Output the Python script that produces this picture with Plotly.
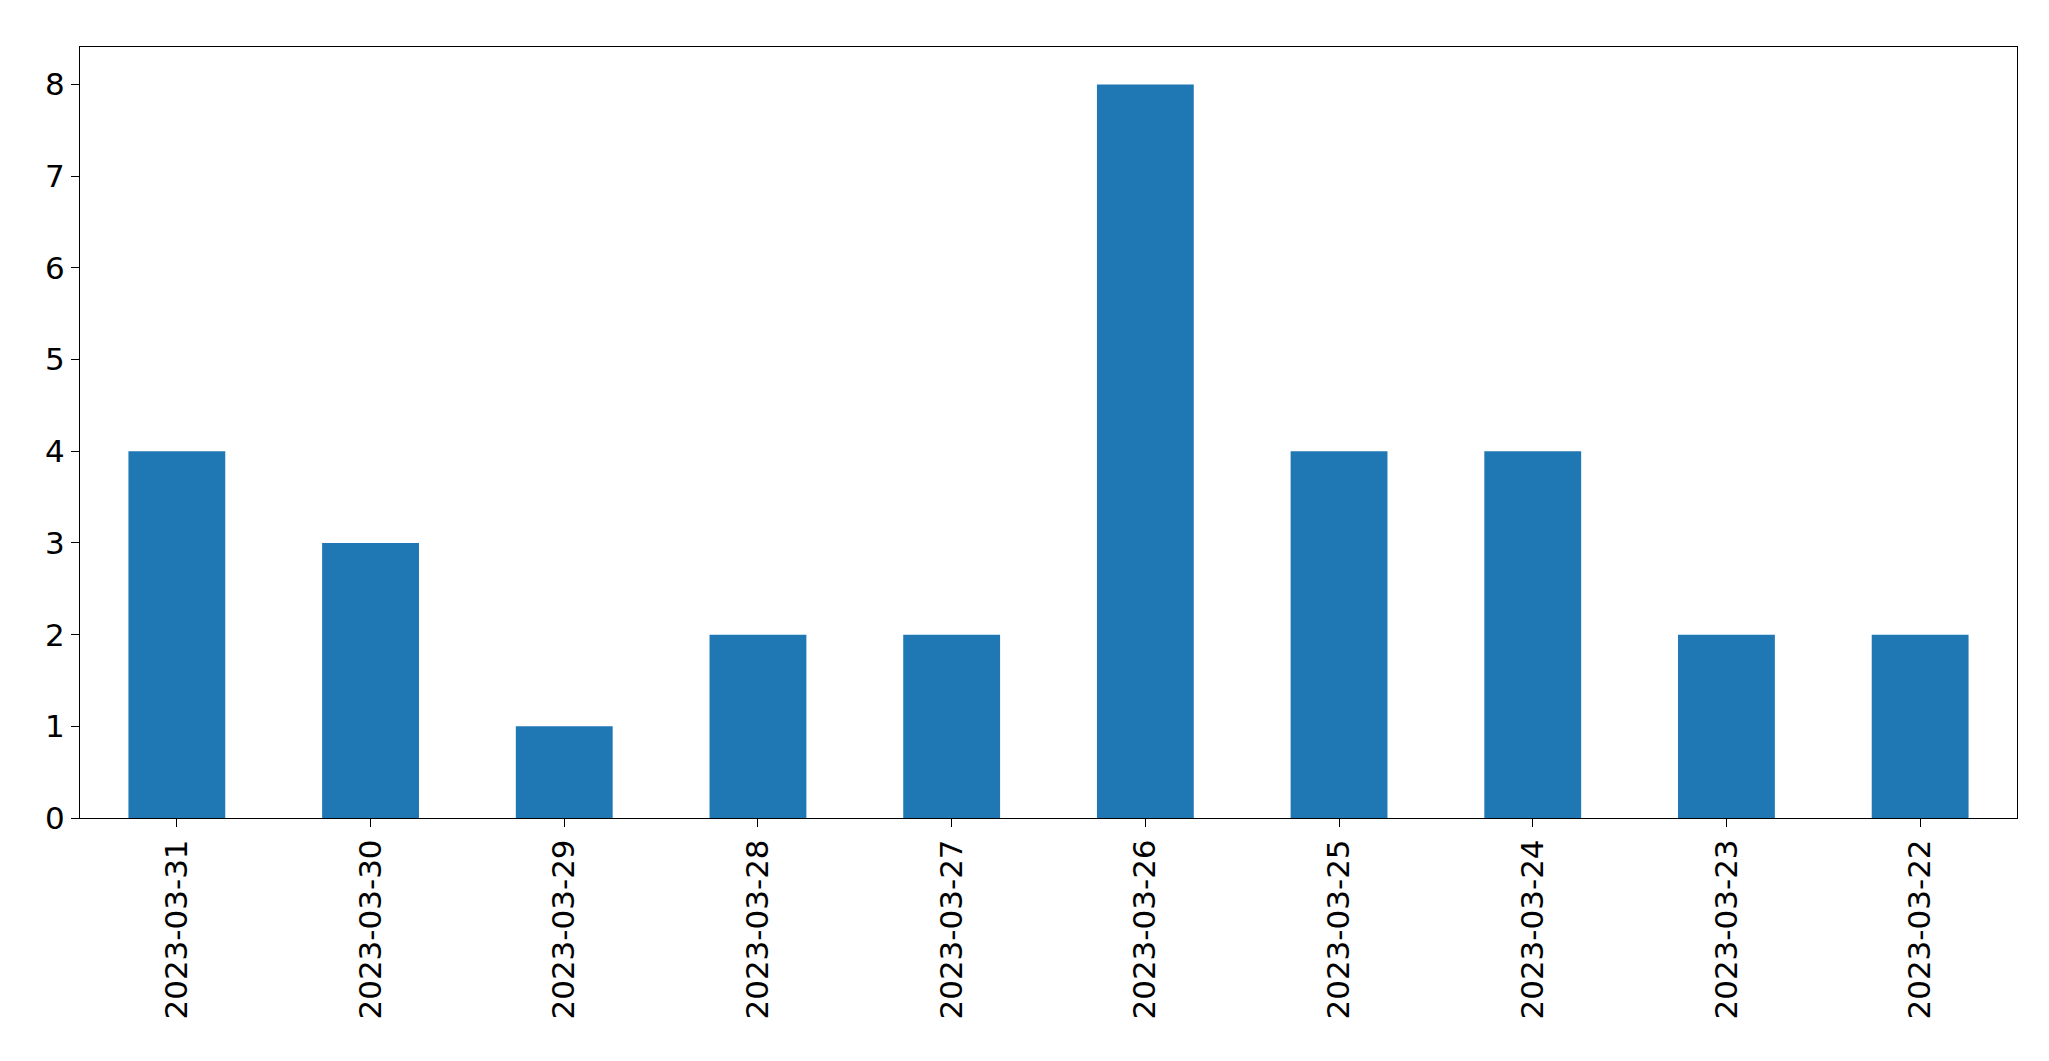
import plotly.graph_objects as go

dates = ['2023-03-31', '2023-03-30', '2023-03-29', '2023-03-28', '2023-03-27',
         '2023-03-26', '2023-03-25', '2023-03-24', '2023-03-23', '2023-03-22']
counts = [4, 3, 1, 2, 2, 8, 4, 4, 2, 2]

fig = go.Figure(go.Bar(x=dates, y=counts, width=0.5, marker=dict(color='#1f77b4', line=dict(width=0))))

fig.update_layout(
    width=2049, height=1061,
    plot_bgcolor='white', paper_bgcolor='white',
    font=dict(family='DejaVu Sans', size=31, color='black'),
    margin=dict(l=72, r=40, t=39, b=251),
    showlegend=False,
)
fig.update_xaxes(type='category', range=[-0.5, 9.5], tickangle=-90,
                 showline=True, linecolor='black', linewidth=1, mirror=True,
                 ticks='outside', ticklen=8, tickcolor='black', showgrid=False)
fig.update_yaxes(range=[0, 8.41], dtick=1, showline=True, linecolor='black', linewidth=1,
                 mirror=True, ticks='outside', ticklen=8, tickcolor='black',
                 showgrid=False, zeroline=False)

fig.write_html("out.html")
